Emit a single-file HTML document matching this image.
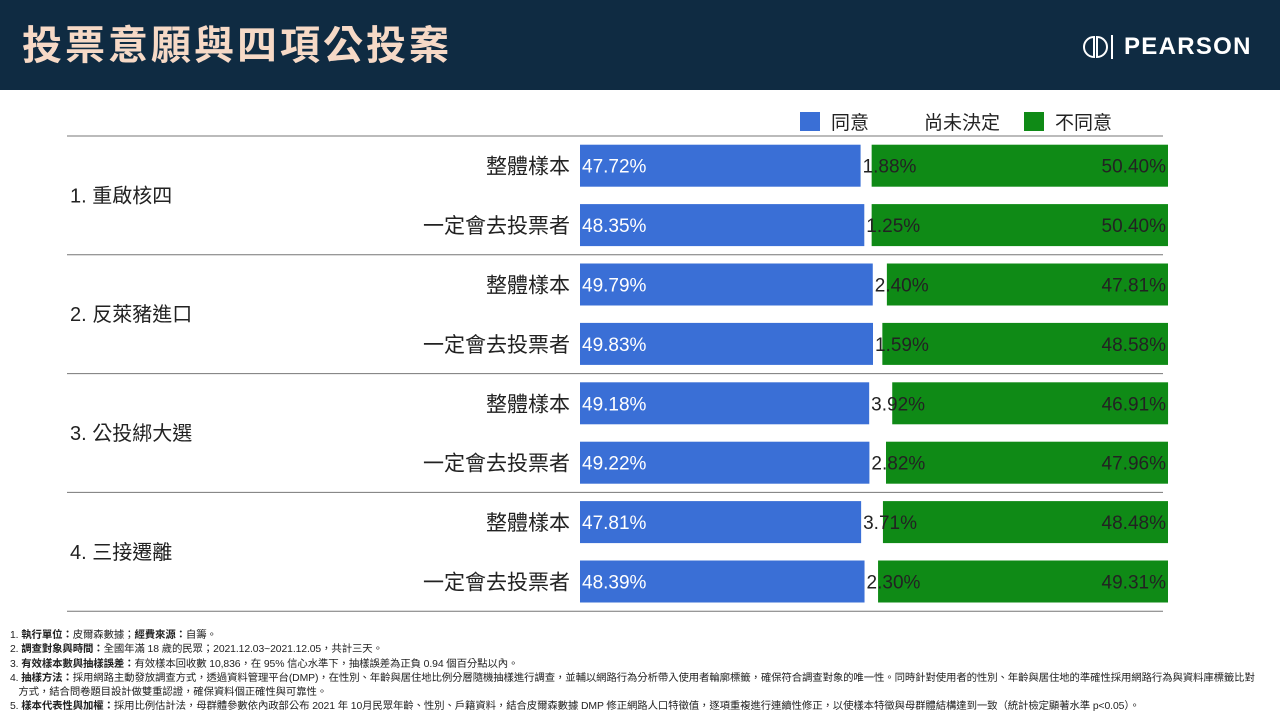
<!DOCTYPE html>
<html><head><meta charset="utf-8">
<style>
body{margin:0;width:1280px;height:720px;background:#fff;font-family:"Liberation Sans","Noto Sans CJK TC",sans-serif;position:relative;overflow:hidden}
#hdr{position:absolute;left:0;top:0;width:1280px;height:90px;background:#0f2b42}
#title{position:absolute;left:22px;top:24px;font-size:40px;line-height:44px;font-weight:bold;color:#f6d9c6;letter-spacing:3px}
#logo{position:absolute;left:1082px;top:33px;color:#fff;font-size:24px;font-weight:bold;letter-spacing:1.3px}
#notes{position:absolute;left:10px;top:629px;font-size:10.4px;color:#222;line-height:14.3px;white-space:nowrap;letter-spacing:-0.1px}
</style></head><body>
<div id="hdr">
<div id="title">投票意願與四項公投案</div>
<svg style="position:absolute;left:1082px;top:34px" width="40" height="26"><path d="M12 3 A10 10 0 0 0 12 23 Z" fill="none" stroke="#fff" stroke-width="2"/><path d="M15 3 A10 10 0 0 1 15 23 Z" fill="none" stroke="#fff" stroke-width="2"/><line x1="30" y1="1" x2="30" y2="25" stroke="#fff" stroke-width="2"/></svg>
<div id="logo" style="left:1124px">PEARSON</div>
</div>
<svg id="chart" width="1280" height="720" style="position:absolute;left:0;top:0"></svg>
<div id="notes">
1. <b>執行單位：</b>皮爾森數據；<b>經費來源：</b>自籌。<br>
2. <b>調查對象與時間：</b>全國年滿 18 歲的民眾；2021.12.03~2021.12.05，共計三天。<br>
3. <b>有效樣本數與抽樣誤差：</b>有效樣本回收數 10,836，在 95% 信心水準下，抽樣誤差為正負 0.94 個百分點以內。<br>
4. <b>抽樣方法：</b>採用網路主動發放調查方式，透過資料管理平台(DMP)，在性別、年齡與居住地比例分層隨機抽樣進行調查，並輔以網路行為分析帶入使用者輪廓標籤，確保符合調查對象的唯一性。同時針對使用者的性別、年齡與居住地的準確性採用網路行為與資料庫標籤比對<br>
&nbsp;&nbsp;&nbsp;方式，結合問卷題目設計做雙重認證，確保資料個正確性與可靠性。<br>
5. <b>樣本代表性與加權：</b>採用比例估計法，母群體參數依內政部公布 2021 年 10月民眾年齡、性別、戶籍資料，結合皮爾森數據 DMP 修正網路人口特徵值，逐項重複進行連續性修正，以使樣本特徵與母群體結構達到一致（統計檢定顯著水準 p&lt;0.05）。
</div>
<script>
const topics=["1. 重啟核四","2. 反萊豬進口","3. 公投綁大選","4. 三接遷離"];
const groups=["整體樣本","一定會去投票者"];
const agree=[47.72,48.35,49.79,49.83,49.18,49.22,47.81,48.39];
const undecided=[1.88,1.25,2.40,1.59,3.92,2.82,3.71,2.30];
const disagree=[50.40,50.40,47.81,48.58,46.91,47.96,48.48,49.31];
const svg=document.getElementById('chart');const NS='http://www.w3.org/2000/svg';
const x0=580,W=588,rowTop=136,rowH=59.4,barH=42;
const sx=v=>v/100*W;
function mk(tag,attrs,txt){const e=document.createElementNS(NS,tag);for(const k in attrs)e.setAttribute(k,attrs[k]);if(txt!==undefined)e.textContent=txt;svg.appendChild(e);return e;}
let l=mk('rect',{x:800,y:112,width:20,height:19,fill:'#3a6fd6'});


l=mk('text',{x:831,y:129,'font-size':19,fill:'#222'},'同意');


l=mk('text',{x:924,y:129,'font-size':19,fill:'#222'},'尚未決定');


l=mk('rect',{x:1024,y:112,width:20,height:19,fill:'#0f8a16'});


l=mk('text',{x:1055,y:129,'font-size':19,fill:'#222'},'不同意');


for(let t=0;t<=topics.length;t++){
  const ln=mk('line',{x1:67,x2:1163,y1:rowTop+t*2*rowH,y2:rowTop+t*2*rowH,stroke:'#777','stroke-width':1});
  
  
}
topics.forEach((tp,t)=>{
  const e=mk('text',{x:70,y:rowTop+t*2*rowH+rowH+7,'font-size':20,fill:'#222'},tp);
  
  
});
agree.forEach((a,i)=>{
  const cy=rowTop+i*rowH+rowH/2,y=cy-barH/2;
  const g=mk('text',{x:570,y:cy+8,'font-size':21,fill:'#222','text-anchor':'end'},groups[i%2]);
  
  
  const u=undecided[i],d=disagree[i];
  const r1=mk('rect',{x:x0,y:y,width:sx(a),height:barH,fill:'#3a6fd6'});
  
  
  const gx=x0+sx(a+u);
  const r3=mk('rect',{x:gx,y:y,width:sx(d),height:barH,fill:'#0f8a16'});
  
  
  const t1=mk('text',{x:x0+2,y:cy+7,'font-size':19,fill:'#fff'},a.toFixed(2)+'%');
  
  
  const t2=mk('text',{x:x0+sx(a)+2,y:cy+7,'font-size':19,fill:'#222'},u.toFixed(2)+'%');
  
  
  const t3=mk('text',{x:x0+sx(a+u+d)-2,y:cy+7,'font-size':19,fill:'#222','text-anchor':'end'},d.toFixed(2)+'%');
  
  
});
</script>
</body></html>
